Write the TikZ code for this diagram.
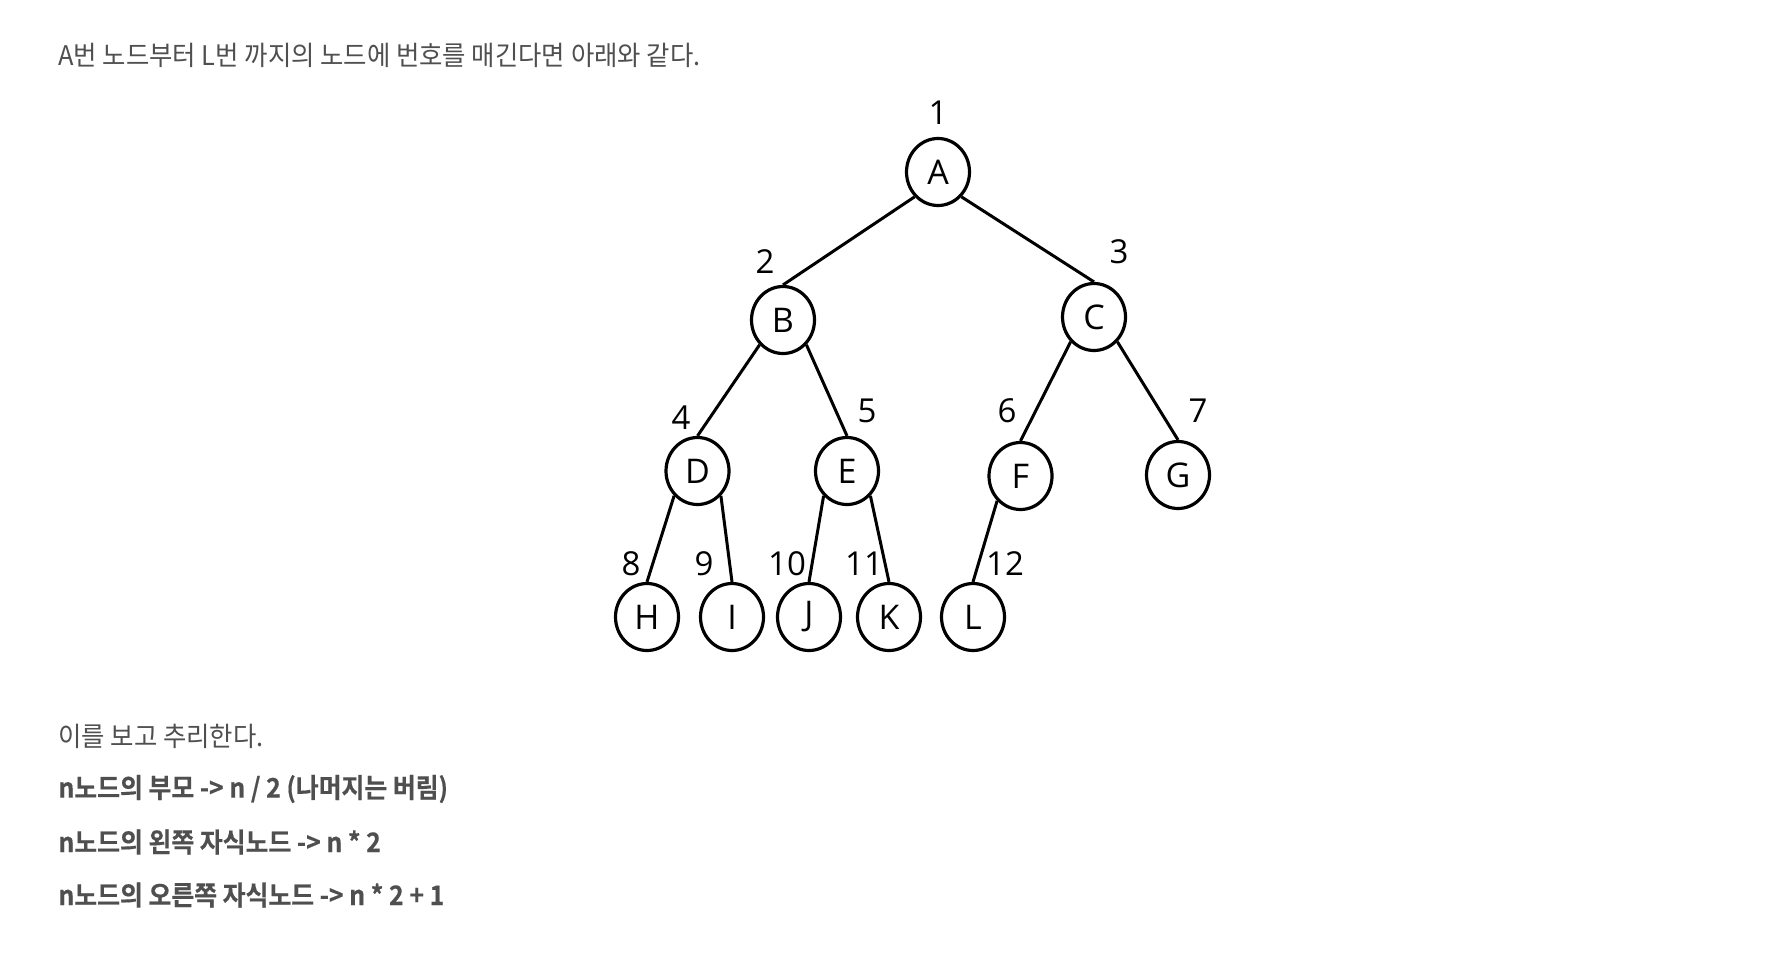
\documentclass[tikz,border=0pt]{standalone}
\usepackage{fontspec}
\usetikzlibrary{shapes.geometric}
\setmainfont{Open Sans}
\newfontfamily\kr[FakeStretch=0.94]{Noto Sans CJK KR}
\newfontfamily\krb[FakeStretch=0.92,FakeBold=0.4]{Noto Sans CJK KR Bold}
\definecolor{txt}{HTML}{4F4F4F}
\begin{document}
\begin{tikzpicture}[x=0.5pt,y=-0.5pt,
  tn/.style={draw, ellipse, line width=1.6pt, minimum width=31.5pt, minimum height=33.5pt, inner sep=0pt, font=\fontsize{17}{20}\selectfont},
  num/.style={inner sep=0pt, font=\fontsize{16.5}{20}\selectfont},
  edge/.style={line width=1.5pt},
  krtext/.style={anchor=west, inner sep=0pt, text=txt, font=\kr\fontsize{13.5}{16}\selectfont},
  krbold/.style={krtext, font=\krb\fontsize{13.5}{16}\selectfont}]
\useasboundingbox (0,0) rectangle (1770,952);
\fill[white] (0,0) rectangle (1770,952);
% text
\node[krtext] (t1) at (58,55) {A번 노드부터 L번 까지의 노드에 번호를 매긴다면 아래와 같다.};
\node[krtext] (t2) at (58,736) {이를 보고 추리한다.};
\node[krbold] (t3) at (58,789) {n노드의 부모 -> n / 2 (나머지는 버림)};
\node[krbold] (t4) at (58,842) {n노드의 왼쪽 자식노드 -> n * 2};
\node[krbold] (t5) at (58,895) {n노드의 오른쪽 자식노드 -> n * 2 + 1};
% tree nodes
\node[tn] (A) at (938,172) {A};
\node[tn] (B) at (783,320) {B};
\node[tn] (C) at (1094,317) {C};
\node[tn] (D) at (697.5,471) {D};
\node[tn] (E) at (847,471) {E};
\node[tn] (F) at (1020.5,476) {F};
\node[tn] (G) at (1178,475) {G};
\node[tn] (H) at (647,617) {H};
\node[tn] (I) at (732,617) {I};
\node[tn] (J) at (809,617) {J};
\node[tn] (K) at (889,617) {K};
\node[tn] (L) at (973,617) {L};
% edges
\draw[edge] (A.south west) -- (B.north);
\draw[edge] (A.south east) -- (C.north);
\draw[edge] (B.south west) -- (D.north);
\draw[edge] (B.south east) -- (E.north);
\draw[edge] (C.south west) -- (F.north);
\draw[edge] (C.south east) -- (G.north);
\draw[edge] (D.south west) -- (H.north);
\draw[edge] (D.south east) -- (I.north);
\draw[edge] (E.south west) -- (J.north);
\draw[edge] (E.south east) -- (K.north);
\draw[edge] (F.south west) -- (L.north);
% numbers
\node[num] (n1) at (938,113) {1};
\node[num] (n2) at (765,262) {2};
\node[num] (n3) at (1119,252) {3};
\node[num] (n4) at (681,418) {4};
\node[num] (n5) at (867,411) {5};
\node[num] (n6) at (1007,411) {6};
\node[num] (n7) at (1198,411) {7};
\node[num] (n8) at (631,564) {8};
\node[num] (n9) at (704,564) {9};
\node[num] (n10) at (787,564) {10};
\node[num] (n11) at (864,564) {11};
\node[num] (n12) at (1005,564) {12};
\end{tikzpicture}
\end{document}
